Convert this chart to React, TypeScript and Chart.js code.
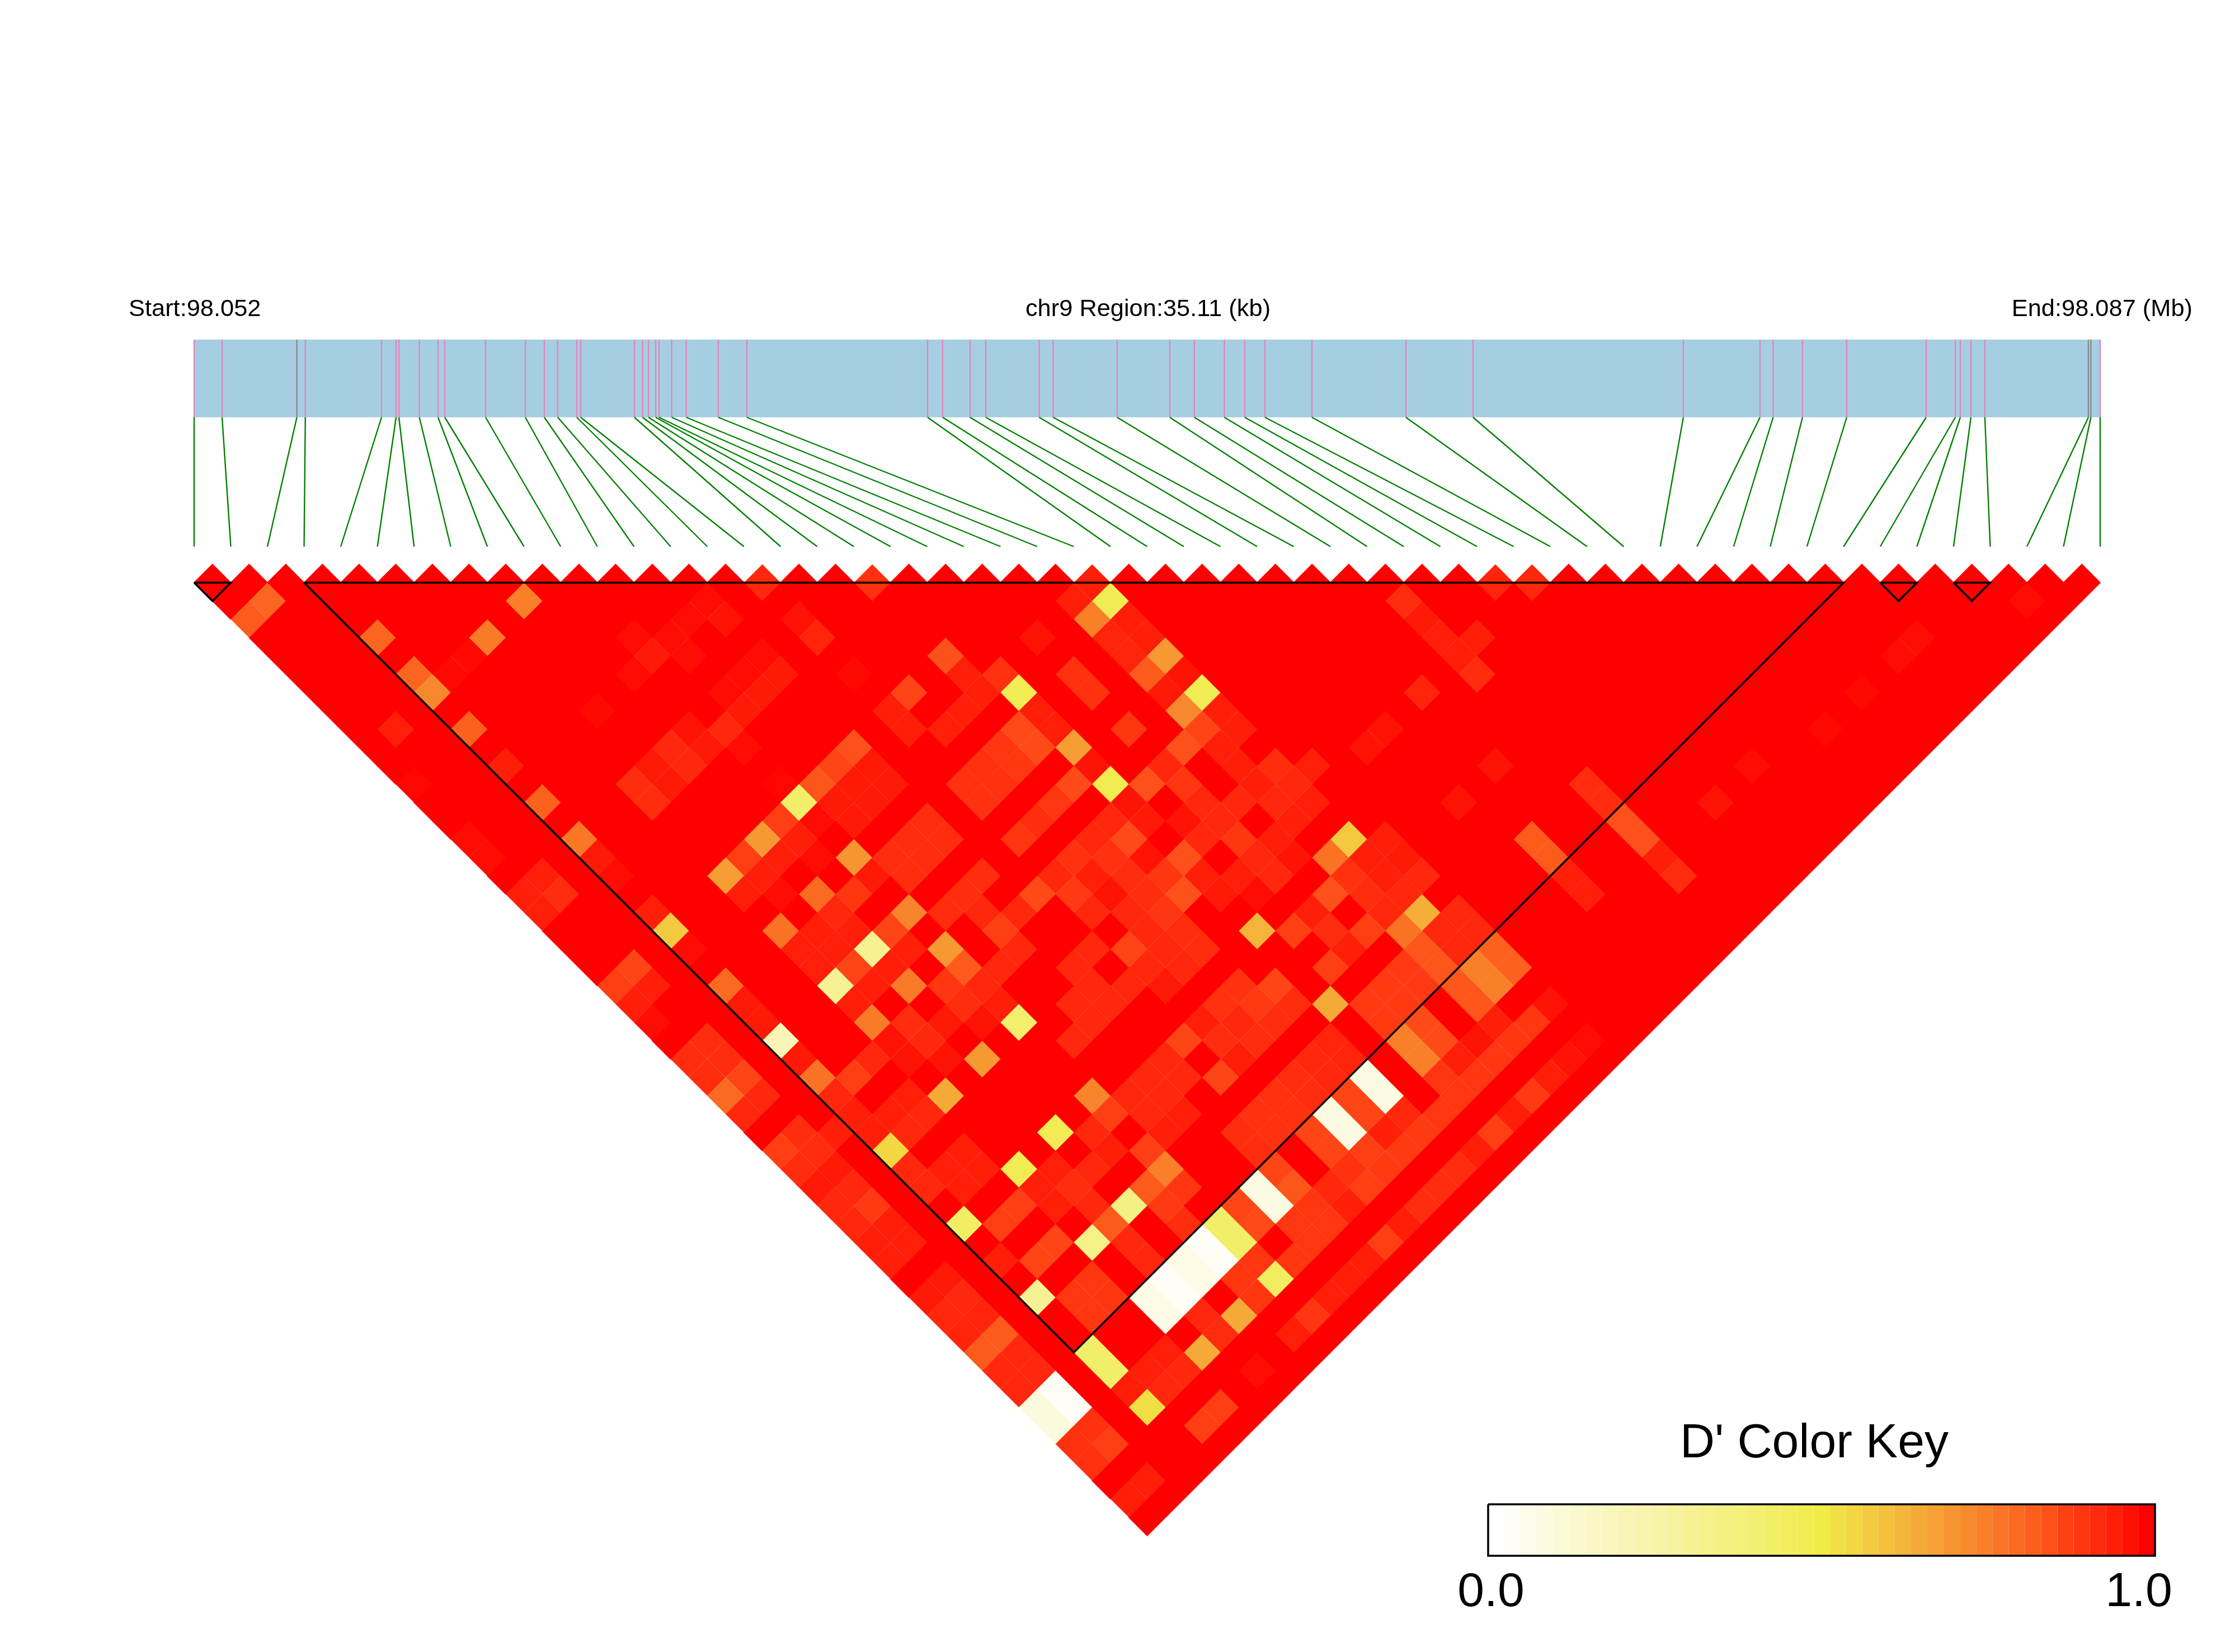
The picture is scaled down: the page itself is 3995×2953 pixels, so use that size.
import React, { useEffect, useRef } from "react";
import { Chart, registerables } from "chart.js";

Chart.register(...registerables);

// ---------- data ----------
const regionKb = 35.11;
const snpPositionsKb = [
  0, 0.515, 1.892, 2.048, 3.452, 3.72, 3.772, 4.149, 4.493, 4.617, 5.369, 6.101, 6.451, 6.698, 7.049, 7.121,
  8.11, 8.26, 8.368, 8.502, 8.564, 8.796, 9.064, 9.656, 10.181, 13.51, 13.788, 14.293, 14.582, 15.566, 15.824,
  17.003, 17.972, 18.425, 18.977, 19.353, 19.724, 20.59, 22.321, 23.558, 27.432, 28.844, 29.086, 29.627, 30.441,
  31.905, 32.441, 32.534, 32.729, 32.986, 34.893, 34.939, 35.11,
];
const grayMarkers = [2, 50, 51];
const ldBlocks = [[0, 1], [3, 45], [46, 47], [48, 49]];
const keyValues = [
  0, 0.025, 0.05, 0.075, 0.1, 0.125, 0.15, 0.175, 0.2, 0.225, 0.25, 0.275, 0.3, 0.325, 0.35, 0.375, 0.4, 0.425,
  0.45, 0.475, 0.5, 0.525, 0.55, 0.575, 0.6, 0.625, 0.65, 0.675, 0.7, 0.725, 0.75, 0.775, 0.8, 0.825, 0.85, 0.875,
  0.9, 0.925, 0.95, 0.975, 1,
];
const rampValues = [0, 0.1, 0.25, 0.4, 0.5, 0.58, 0.66, 0.74, 0.82, 0.88, 0.95, 1];
const rampColors = ["#FFFFFF", "#FBF9D6", "#F7F3A6", "#F3EF70", "#F0EB47", "#F3C93F", "#F5A637", "#F8842B", "#FC611E", "#FF3F13", "#FF1F09", "#FF0000"];

// Each row lists the pairs below 1.0: [first SNP index + second SNP index, D'].
// The row number is (second index - first index - 1).
const softRows: [number, number][][] = [
  [[31,.93],[37,.91],[49,.95],[71,.94],[73,.93]],
  [[4,.81],[18,.75],[28,.98],[48,.95],[50,.47],[66,.92],[100,.98]],
  [[3,.83],[27,.98],[29,.97],[33,.97],[49,.75],[51,.95],[67,.96]],
  [[10,.81],[16,.76],[24,.98],[26,.98],[34,.94],[46,.97],[50,.94],[52,.95],[68,.95],[70,.95],[94,.98]],
  [[15,.985],[25,.96],[27,.98],[31,.98],[41,.85],[51,.94],[53,.69],[69,.95],[93,.98]],
  [[12,.81],[14,.985],[24,.98],[30,.98],[32,.96],[36,.985],[42,.95],[44,.91],[48,.91],[52,.83],[54,.97],[70,.92]],
  [[13,.73],[29,.98],[31,.96],[39,.87],[43,.95],[45,.47],[49,.91],[53,.96],[55,.47],[67,.94],[91,.985]],
  [[22,.985],[30,.96],[38,.95],[42,.95],[46,.95],[54,.73],[56,.95]],
  [[11,.95],[15,.82],[27,.97],[29,.93],[39,.95],[41,.95],[45,.86],[47,.95],[51,.9],[55,.87],[57,.95],[65,.97],[89,.985]],
  [[26,.93],[28,.96],[30,.98],[36,.85],[44,.9],[46,.86],[48,.68],[54,.85],[56,.95],[64,.97]],
  [[17,.95],[25,.96],[27,.93],[35,.87],[37,.96],[43,.91],[45,.9],[49,.97],[53,.93],[57,.95],[59,.92],[61,.95],[71,.97],[85,.98]],
  [[12,.99],[24,.92],[26,.96],[32,.99],[34,.84],[36,.96],[38,.96],[42,.91],[44,.91],[48,.86],[50,.48],[52,.85],[54,.9],[58,.95],[60,.93],[76,.92]],
  [[19,.82],[25,.92],[33,.42],[35,.96],[37,.96],[43,.91],[47,.9],[51,.97],[55,.93],[57,.93],[59,.93],[61,.95],[69,.97],[77,.92],[83,.97]],
  [[32,.88],[34,.98],[36,.96],[40,.92],[46,.92],[50,.93],[52,.96],[54,.97],[56,.93],[60,.95],[78,.85]],
  [[15,.98],[21,.77],[31,.69],[33,.95],[39,.92],[41,.92],[45,.9],[49,.93],[51,.86],[55,.93],[57,.9],[59,.95],[63,.58],[65,.95],[73,.83],[79,.85]],
  [[16,.98],[22,.96],[30,.88],[32,.95],[34,.98],[36,.7],[38,.92],[40,.92],[48,.91],[50,.91],[52,.97],[54,.85],[58,.93],[60,.97],[62,.78],[64,.95],[66,.96],[74,.83],[80,.95]],
  [[19,.95],[23,.98],[29,.68],[31,.95],[37,.96],[39,.92],[43,.92],[47,.93],[49,.95],[51,.92],[53,.9],[55,.95],[57,.95],[59,.93],[63,.91],[65,.95],[67,.93],[75,.95],[81,.92]],
  [[18,.95],[20,.92],[30,.95],[32,.98],[34,.8],[36,.9],[42,.92],[46,.86],[48,.89],[50,.97],[52,.92],[54,.85],[56,.96],[58,.98],[62,.85],[64,.92],[66,.93],[76,.95]],
  [[19,.95],[25,.95],[35,.93],[39,.74],[41,.92],[43,.93],[45,.93],[49,.93],[51,.93],[53,.9],[61,.95],[65,.93],[67,.64],[69,.93]],
  [[26,.58],[32,.78],[34,.95],[36,.95],[38,.87],[44,.88],[52,.93],[54,.92],[58,.63],[60,.88],[62,.92],[64,.88],[66,.78],[68,.93],[70,.93]],
  [[27,.98],[33,.95],[35,.95],[37,.3],[39,.95],[41,.69],[45,.93],[49,.93],[51,.87],[53,.93],[55,.92],[63,.95],[67,.84],[69,.93],[71,.82]],
  [[24,.87],[34,.95],[36,.87],[38,.95],[42,.83],[44,.93],[48,.93],[52,.93],[54,.93],[62,.88],[66,.89],[68,.84],[70,.75],[72,.82]],
  [[23,.88],[25,.95],[29,.8],[35,.3],[37,.95],[39,.76],[41,.9],[43,.93],[49,.93],[51,.93],[53,.96],[57,.91],[59,.87],[65,.89],[67,.89],[69,.84],[71,.75]],
  [[24,.95],[30,.96],[36,.95],[42,.92],[44,.95],[48,.93],[50,.93],[56,.91],[58,.89],[60,.92],[62,.65],[64,.89],[66,.89],[70,.84],[74,.97]],
  [[25,.98],[31,.96],[37,.76],[39,.92],[41,.96],[43,.97],[45,.41],[49,.93],[55,.95],[57,.93],[59,.92],[65,.89],[67,.86],[71,.95],[73,.9]],
  [[28,.92],[32,.2],[38,.97],[40,.93],[48,.93],[54,.87],[56,.92],[58,.92],[62,.94],[66,.75],[68,.86],[70,.97],[72,.9],[76,.98]],
  [[27,.92],[29,.92],[33,.96],[37,.93],[39,.97],[41,.97],[43,.69],[53,.93],[57,.95],[61,.93],[63,.94],[67,.75],[69,.95],[71,.9],[75,.97]],
  [[28,.92],[30,.87],[34,.78],[36,.88],[52,.93],[54,.93],[56,.87],[60,.92],[62,.93],[64,.07],[68,.9],[70,.9],[74,.95]],
  [[29,.8],[31,.93],[35,.93],[39,.95],[41,.65],[49,.74],[51,.93],[53,.93],[59,.91],[61,.92],[63,.87],[65,.07],[69,.9],[73,.89]],
  [[30,.93],[36,.95],[38,.95],[40,.93],[50,.88],[52,.93],[54,.95],[58,.91],[60,.91],[62,.07],[64,.87],[66,.93],[68,.9],[72,.95]],
  [[33,.92],[35,.95],[37,.95],[39,.93],[47,.47],[49,.93],[53,.95],[57,.92],[59,.91],[61,.87],[63,.07],[65,.95],[67,.89],[71,.88]],
  [[32,.88],[34,.92],[38,.55],[42,.95],[50,.95],[52,.88],[58,.92],[62,.87],[64,.88],[66,.89],[70,.95]],
  [[33,.92],[35,.96],[39,.93],[41,.95],[43,.95],[45,.47],[47,.95],[49,.93],[53,.75],[59,.87],[63,.91],[65,.89],[69,.92]],
  [[34,.96],[36,.93],[40,.93],[42,.95],[46,.95],[48,.92],[52,.83],[54,.9],[58,.07],[60,.84],[62,.93],[64,.88],[68,.92]],
  [[35,.93],[37,.89],[45,.88],[47,.95],[49,.93],[51,.35],[53,.89],[57,.87],[59,.07],[61,.9],[63,.95],[67,.92]],
  [[36,.93],[38,.95],[42,.43],[44,.88],[50,.83],[54,.92],[56,.42],[58,.86],[60,.9],[62,.9],[66,.95]],
  [[37,.95],[39,.95],[47,.87],[49,.33],[51,.93],[55,.02],[57,.42],[61,.9],[65,.88]],
  [[38,.95],[44,.95],[46,.87],[52,.93],[54,.06],[56,.02],[58,.9],[60,.9],[64,.95]],
  [[41,.96],[49,.9],[53,.02],[55,.06],[57,.9],[59,.44],[63,.95]],
  [[40,.96],[42,.93],[46,.3],[48,.9],[50,.9],[52,.06],[54,.02],[58,.9],[62,.95]],
  [[41,.93],[43,.94],[49,.9],[53,.06],[55,.93],[57,.65],[61,.9]],
  [[42,.94],[44,.83],[56,.92],[60,.95]],
  [[43,.83],[45,.93],[49,.42],[53,.95],[55,.65]],
  [[44,.93],[46,.93],[50,.42],[52,.95],[54,.93],[58,.98]],
  [[45,.93],[47,.02],[51,.95],[53,.93]],
  [[46,.08],[48,.02],[52,.53],[56,.88]],
  [[47,.08],[49,.91],[55,.88]],
  [[48,.91],[50,.88]],
  [[49,.91]],
  [[52,.95]],
  [[51,.95]],
];

const startLabel = "Start:98.052";
const regionLabel = "chr9 Region:35.11 (kb)";
const endLabel = "End:98.087 (Mb)";
const keyTitle = "D' Color Key";
const keyMinLabel = "0.0";
const keyMaxLabel = "1.0";

// ---------- layout (page pixels) ----------
const WIDTH = 3995;
const HEIGHT = 2953;
const LEFT_PX = 347;
const RIGHT_PX = 3754;
const TOP_ROW_PX = 1041.5;
const BAND_TOP_PX = 607;
const BAND_BOTTOM_PX = 746;
const CONNECT_END_PX = 977;
const KEY_LEFT_PX = 2660;
const KEY_RIGHT_PX = 3852;
const KEY_TOP_PX = 2689;
const KEY_BOTTOM_PX = 2781;

const snpCount = snpPositionsKb.length;
const xStep = (RIGHT_PX - LEFT_PX) / (snpCount - 1);
const rowStep = xStep / 2;
const xOfPx = (p: number) => (p - LEFT_PX) / xStep;
const rowOfPx = (p: number) => (p - TOP_ROW_PX) / rowStep;
const xOfKb = (kb: number) => (kb / regionKb) * (snpCount - 1);
const BREAK = { x: NaN, y: NaN };

function heatColor(v: number): string {
  let k = 0;
  while (k < rampValues.length - 2 && v > rampValues[k + 1]) k++;
  const t = Math.min(1, Math.max(0, (v - rampValues[k]) / (rampValues[k + 1] - rampValues[k])));
  const ch = (hex: string, at: number) => parseInt(hex.slice(at, at + 2), 16);
  const mix = (at: number) => Math.round(ch(rampColors[k], at) * (1 - t) + ch(rampColors[k + 1], at) * t);
  return `rgb(${mix(1)},${mix(3)},${mix(5)})`;
}

function buildCells(soft: boolean) {
  const points: { x: number; y: number }[] = [];
  const colors: string[] = [];
  const lookup = new Map<string, number>();
  softRows.forEach((row, r) => row.forEach(([sum, v]) => lookup.set(`${sum}|${r}`, v)));
  for (let r = 0; r < snpCount - 1; r++) {
    for (let i = 0; i + r + 1 < snpCount; i++) {
      const j = i + r + 1;
      const v = lookup.get(`${i + j}|${r}`);
      if ((v !== undefined) !== soft) continue;
      points.push({ x: (i + j) / 2, y: r });
      colors.push(heatColor(v ?? 1));
    }
  }
  return { points, colors };
}

const textPlugin = {
  id: "chartText",
  afterDatasetsDraw(chart: any) {
    const ctx = chart.ctx;
    const put = (text: string, x: number, y: number, size: number, align: CanvasTextAlign) => {
      ctx.font = `${size}px "Liberation Sans", Arial, sans-serif`;
      ctx.textAlign = align;
      ctx.textBaseline = "alphabetic";
      ctx.fillStyle = "#000000";
      ctx.fillText(text, x, y);
    };
    ctx.save();
    put(startLabel, 230, 565, 43.4, "left");
    put(regionLabel, 2052, 565, 43.4, "center");
    put(endLabel, 3919, 565, 43.4, "right");
    put(keyTitle, 3243, 2605, 86, "center");
    put(keyMinLabel, 2665, 2871, 86, "center");
    put(keyMaxLabel, 3823, 2871, 86, "center");
    ctx.restore();
  },
};

export default function App() {
  const ref = useRef<HTMLCanvasElement | null>(null);

  useEffect(() => {
    if (!ref.current) return;
    const full = buildCells(false);
    const soft = buildCells(true);
    const line = { showLine: true, pointRadius: 0, spanGaps: false, borderCapStyle: "butt", borderJoinStyle: "miter", tension: 0 };

    const markerPoints = (idx: number[]) =>
      idx.flatMap((k) => [
        { x: xOfKb(snpPositionsKb[k]), y: rowOfPx(BAND_TOP_PX) },
        { x: xOfKb(snpPositionsKb[k]), y: rowOfPx(BAND_BOTTOM_PX) },
        BREAK,
      ]);
    const pink = snpPositionsKb.map((_, k) => k).filter((k) => !grayMarkers.includes(k));
    const connectors = snpPositionsKb.flatMap((kb, k) => [
      { x: xOfKb(kb), y: rowOfPx(BAND_BOTTOM_PX) },
      { x: k, y: rowOfPx(CONNECT_END_PX) },
      BREAK,
    ]);
    const blocks = ldBlocks.flatMap(([a, b]) => [
      { x: a, y: 0 },
      { x: b, y: 0 },
      { x: (a + b) / 2, y: b - a },
      { x: a, y: 0 },
      BREAK,
    ]);
    const keyX = (v: number) => xOfPx(KEY_LEFT_PX + v * (KEY_RIGHT_PX - KEY_LEFT_PX));
    const bandCount = keyValues.length;
    const keyBand = keyValues.map((v) => ({
      x: keyX(v * ((bandCount - 1) / bandCount)),
      y: rowOfPx((KEY_TOP_PX + KEY_BOTTOM_PX) / 2),
    }));
    keyBand.push({ x: keyX(1), y: rowOfPx((KEY_TOP_PX + KEY_BOTTOM_PX) / 2) });
    const keyFrame = [
      { x: keyX(0), y: rowOfPx(KEY_TOP_PX) },
      { x: keyX(1), y: rowOfPx(KEY_TOP_PX) },
      { x: keyX(1), y: rowOfPx(KEY_BOTTOM_PX) },
      { x: keyX(0), y: rowOfPx(KEY_BOTTOM_PX) },
      { x: keyX(0), y: rowOfPx(KEY_TOP_PX) },
    ];
    const cellStyle = {
      showLine: false,
      pointStyle: "rectRot",
      pointBorderWidth: 0,
    };

    const chart = new Chart(ref.current, {
      type: "scatter",
      data: {
        datasets: [
          { ...line, label: "LD blocks", data: blocks, borderColor: "#000000", borderWidth: 3.5, order: 1 },
          { ...line, label: "Key frame", data: keyFrame, borderColor: "#000000", borderWidth: 3.5, order: 2 },
          {
            ...line,
            label: "Key bands",
            data: keyBand,
            borderWidth: KEY_BOTTOM_PX - KEY_TOP_PX,
            borderColor: "#FF0000",
            segment: { borderColor: (c: any) => heatColor(keyValues[c.p0DataIndex] ?? 1) },
            order: 3,
          },
          { ...cellStyle, label: "D' below 1", data: soft.points, pointRadius: rowStep + 0.1, pointBackgroundColor: soft.colors, order: 4 },
          { ...cellStyle, label: "D' = 1", data: full.points, pointRadius: rowStep + 1.2, pointBackgroundColor: full.colors, order: 5 },
          { ...line, label: "Connectors", data: connectors, borderColor: "#008000", borderWidth: 2.4, order: 6 },
          { ...line, label: "Gray markers", data: markerPoints(grayMarkers), borderColor: "#8A8A8A", borderWidth: 2.4, order: 7 },
          { ...line, label: "Markers", data: markerPoints(pink), borderColor: "#E086BC", borderWidth: 2.4, order: 8 },
          {
            ...line,
            label: "Region",
            data: [
              { x: 0, y: rowOfPx((BAND_TOP_PX + BAND_BOTTOM_PX) / 2) },
              { x: snpCount - 1, y: rowOfPx((BAND_TOP_PX + BAND_BOTTOM_PX) / 2) },
            ],
            borderColor: "#A6CEE3",
            borderWidth: BAND_BOTTOM_PX - BAND_TOP_PX,
            order: 9,
          },
        ] as any,
      },
      options: {
        animation: false,
        responsive: false,
        devicePixelRatio: 1,
        events: [],
        layout: { padding: 0, autoPadding: false },
        plugins: { legend: { display: false }, tooltip: { enabled: false }, title: { display: false } },
        scales: {
          x: { type: "linear", display: false, min: xOfPx(0), max: xOfPx(WIDTH) },
          y: { type: "linear", display: false, reverse: true, min: rowOfPx(0), max: rowOfPx(HEIGHT) },
        },
      } as any,
      plugins: [textPlugin],
    });
    return () => chart.destroy();
  }, []);

  return (
    <div style={{ position: "absolute", left: 0, top: 0, width: WIDTH, height: HEIGHT, background: "#FFFFFF" }}>
      <canvas ref={ref} width={WIDTH} height={HEIGHT} style={{ display: "block" }} />
    </div>
  );
}
